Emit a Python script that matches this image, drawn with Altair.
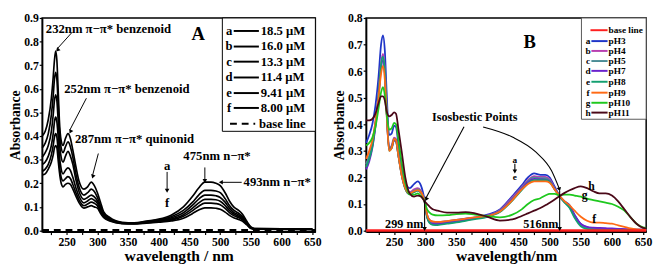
import altair as alt
import pandas as pd

FONT = "Liberation Serif"

# ---------------- Panel A : concentration series ----------------
WL_A = [210, 215, 220, 225, 228, 230, 232, 234, 236, 238, 241, 244, 248, 252, 256, 260, 265, 270, 278, 284,
        290, 295, 300, 305, 310, 320, 340, 360, 380, 400, 420, 440, 455, 465, 475, 485, 493, 500, 508, 515,
        522, 530, 536, 543, 550, 556, 600, 650]
A_a = [0.40, 0.42, 0.47, 0.56, 0.65, 0.72, 0.76, 0.72, 0.60, 0.47, 0.38, 0.36, 0.39, 0.41, 0.39, 0.34, 0.27, 0.21, 0.175, 0.185,
       0.205, 0.19, 0.16, 0.12, 0.08, 0.055, 0.035, 0.032, 0.04, 0.048, 0.065, 0.10, 0.145, 0.18, 0.205, 0.205, 0.2, 0.19, 0.16, 0.125,
       0.1, 0.085, 0.07, 0.04, 0.015, 0.008, 0.007, 0.006]
A_b = [0.35, 0.37, 0.41, 0.49, 0.57, 0.64, 0.67, 0.64, 0.54, 0.43, 0.35, 0.33, 0.355, 0.375, 0.355, 0.31, 0.24, 0.185, 0.15, 0.16,
       0.175, 0.165, 0.14, 0.105, 0.075, 0.05, 0.033, 0.031, 0.038, 0.045, 0.058, 0.085, 0.12, 0.15, 0.17, 0.17, 0.167, 0.16, 0.135, 0.106,
       0.086, 0.073, 0.06, 0.035, 0.013, 0.008, 0.007, 0.006]
A_c = [0.31, 0.33, 0.36, 0.42, 0.49, 0.55, 0.575, 0.55, 0.47, 0.38, 0.31, 0.29, 0.315, 0.335, 0.315, 0.28, 0.215, 0.165, 0.132, 0.14,
       0.15, 0.142, 0.125, 0.095, 0.07, 0.048, 0.032, 0.03, 0.036, 0.042, 0.053, 0.075, 0.107, 0.133, 0.15, 0.15, 0.147, 0.14, 0.12, 0.095,
       0.077, 0.066, 0.054, 0.032, 0.012, 0.007, 0.006, 0.006]
A_d = [0.28, 0.29, 0.315, 0.36, 0.41, 0.46, 0.48, 0.46, 0.40, 0.32, 0.26, 0.24, 0.255, 0.265, 0.255, 0.225, 0.18, 0.145, 0.117, 0.125,
       0.135, 0.128, 0.115, 0.088, 0.065, 0.045, 0.031, 0.03, 0.034, 0.04, 0.048, 0.067, 0.095, 0.117, 0.132, 0.132, 0.13, 0.124, 0.106, 0.085,
       0.07, 0.06, 0.05, 0.03, 0.011, 0.007, 0.006, 0.005]
A_e = [0.25, 0.26, 0.28, 0.32, 0.36, 0.395, 0.41, 0.395, 0.34, 0.28, 0.225, 0.21, 0.22, 0.228, 0.22, 0.195, 0.16, 0.13, 0.105, 0.112,
       0.12, 0.115, 0.105, 0.08, 0.06, 0.043, 0.03, 0.029, 0.033, 0.037, 0.044, 0.06, 0.084, 0.103, 0.116, 0.116, 0.114, 0.109, 0.094, 0.076,
       0.063, 0.055, 0.046, 0.028, 0.01, 0.006, 0.006, 0.005]
A_f = [0.235, 0.24, 0.26, 0.29, 0.32, 0.35, 0.36, 0.35, 0.30, 0.25, 0.2, 0.185, 0.195, 0.2, 0.195, 0.175, 0.145, 0.118, 0.095, 0.1,
       0.105, 0.1, 0.095, 0.073, 0.055, 0.04, 0.029, 0.028, 0.031, 0.035, 0.04, 0.052, 0.072, 0.087, 0.096, 0.096, 0.094, 0.09, 0.078, 0.064,
       0.054, 0.047, 0.04, 0.025, 0.009, 0.006, 0.005, 0.005]
A_SERIES = {"a": A_a, "b": A_b, "c": A_c, "d": A_d, "e": A_e, "f": A_f}
A_BASE_WL = [210, 655]
A_BASE_ABS = [0.002, 0.002]
A_LEG_LETTERS = ["a", "b", "c", "d", "e", "f"]
A_LEG_LABELS = ["18.5 μM", "16.0 μM", "13.3 μM", "11.4 μM", "9.41 μM", "8.00 μM"]

# ---------------- Panel B : pH series ----------------
WL_B = [205, 210, 215, 220, 225, 229, 232, 235, 238, 242, 246, 250, 253, 257, 262, 268, 275, 282, 288, 293,
        299, 303, 307, 312, 320, 335, 350, 365, 380, 400, 420, 440, 455, 465, 475, 485, 493, 500, 508, 516,
        524, 532, 540, 550, 560, 570, 580, 590, 600, 610, 620, 630, 640, 650, 655]
B_pH3 = [0.33, 0.36, 0.40, 0.47, 0.58, 0.70, 0.735, 0.68, 0.52, 0.36, 0.365, 0.395, 0.39, 0.32, 0.24, 0.18, 0.16, 0.175, 0.185, 0.17,
         0.115, 0.06, 0.04, 0.033, 0.032, 0.035, 0.04, 0.045, 0.05, 0.06, 0.08, 0.13, 0.17, 0.20, 0.215, 0.21, 0.21, 0.20, 0.165, 0.13,
         0.11, 0.095, 0.06, 0.025, 0.012, 0.008, 0.006, 0.005, 0.005, 0.005, 0.004, 0.004, 0.004, 0.004, 0.004]
B_pH4 = [0.25, 0.28, 0.33, 0.41, 0.52, 0.63, 0.665, 0.61, 0.46, 0.31, 0.32, 0.35, 0.345, 0.29, 0.22, 0.165, 0.145, 0.155, 0.16, 0.15,
         0.11, 0.055, 0.035, 0.028, 0.027, 0.032, 0.037, 0.042, 0.048, 0.057, 0.077, 0.125, 0.163, 0.19, 0.205, 0.202, 0.202, 0.193, 0.16, 0.13,
         0.108, 0.09, 0.055, 0.022, 0.01, 0.006, 0.005, 0.005, 0.004, 0.004, 0.004, 0.003, 0.003, 0.003, 0.003]
B_pH5 = [0.25, 0.28, 0.32, 0.40, 0.51, 0.62, 0.65, 0.60, 0.45, 0.31, 0.315, 0.34, 0.335, 0.28, 0.215, 0.16, 0.14, 0.15, 0.155, 0.147,
         0.108, 0.052, 0.032, 0.026, 0.025, 0.03, 0.035, 0.04, 0.046, 0.055, 0.075, 0.12, 0.16, 0.186, 0.20, 0.197, 0.197, 0.188, 0.157, 0.128,
         0.106, 0.088, 0.052, 0.02, 0.009, 0.006, 0.005, 0.004, 0.004, 0.004, 0.003, 0.003, 0.003, 0.003, 0.003]
B_pH7 = [0.23, 0.26, 0.31, 0.39, 0.50, 0.61, 0.64, 0.59, 0.44, 0.305, 0.31, 0.34, 0.335, 0.28, 0.21, 0.158, 0.138, 0.146, 0.15, 0.143,
         0.107, 0.05, 0.03, 0.025, 0.024, 0.029, 0.034, 0.04, 0.046, 0.054, 0.073, 0.117, 0.157, 0.182, 0.195, 0.193, 0.192, 0.185, 0.156, 0.128,
         0.108, 0.09, 0.055, 0.025, 0.014, 0.011, 0.01, 0.009, 0.008, 0.007, 0.006, 0.005, 0.004, 0.004, 0.004]
B_pH8 = [0.24, 0.27, 0.315, 0.40, 0.51, 0.625, 0.655, 0.60, 0.45, 0.30, 0.31, 0.345, 0.34, 0.28, 0.21, 0.157, 0.137, 0.145, 0.15, 0.143,
         0.107, 0.05, 0.028, 0.022, 0.021, 0.026, 0.031, 0.037, 0.043, 0.052, 0.07, 0.113, 0.152, 0.177, 0.19, 0.19, 0.19, 0.183, 0.155, 0.128,
         0.105, 0.085, 0.048, 0.016, 0.006, 0.003, 0.002, 0.002, 0.002, 0.002, 0.002, 0.002, 0.002, 0.002, 0.002]
B_pH9 = [0.27, 0.30, 0.34, 0.41, 0.50, 0.59, 0.62, 0.57, 0.44, 0.30, 0.31, 0.345, 0.34, 0.28, 0.21, 0.16, 0.14, 0.148, 0.152, 0.145,
         0.108, 0.06, 0.04, 0.035, 0.033, 0.036, 0.04, 0.045, 0.05, 0.055, 0.072, 0.115, 0.155, 0.175, 0.185, 0.185, 0.185, 0.18, 0.155, 0.13,
         0.11, 0.095, 0.075, 0.052, 0.037, 0.03, 0.03, 0.028, 0.026, 0.02, 0.014, 0.008, 0.005, 0.004, 0.004]
B_pH10 = [0.32, 0.33, 0.35, 0.39, 0.46, 0.52, 0.54, 0.51, 0.44, 0.38, 0.385, 0.405, 0.40, 0.34, 0.26, 0.18, 0.135, 0.135, 0.14, 0.13,
          0.11, 0.08, 0.068, 0.06, 0.057, 0.058, 0.062, 0.064, 0.06, 0.055, 0.05, 0.06, 0.08, 0.10, 0.115, 0.122, 0.132, 0.138, 0.138, 0.133,
          0.135, 0.135, 0.132, 0.128, 0.12, 0.115, 0.11, 0.105, 0.10, 0.09, 0.075, 0.05, 0.025, 0.012, 0.01]
B_pH11 = [0.415, 0.415, 0.42, 0.44, 0.48, 0.505, 0.505, 0.49, 0.45, 0.43, 0.435, 0.445, 0.44, 0.38, 0.30, 0.20, 0.14, 0.128, 0.132, 0.128,
          0.11, 0.10, 0.09, 0.08, 0.075, 0.068, 0.068, 0.07, 0.065, 0.052, 0.038, 0.042, 0.055, 0.065, 0.075, 0.085, 0.095, 0.105, 0.117, 0.13,
          0.142, 0.152, 0.16, 0.166, 0.16, 0.148, 0.14, 0.14, 0.132, 0.11, 0.08, 0.05, 0.025, 0.01, 0.008]
B_NAMES = ["pH3", "pH4", "pH5", "pH7", "pH8", "pH9", "pH10", "pH11"]
B_LETTERS = ["a", "b", "c", "d", "e", "f", "g", "h"]
B_VALUES = [B_pH3, B_pH4, B_pH5, B_pH7, B_pH8, B_pH9, B_pH10, B_pH11]
B_COLORS = ["#1f35c8", "#b83fb0", "#4b8c96", "#6a22cc", "#13a070", "#ff6a14", "#1ec81e", "#4a0818"]
BASE_COLOR = "#ff1f1f"
B_BASE_WL = [205, 655]
B_BASE_ABS = [0.0005, 0.0005]

for v in A_SERIES.values():
    assert len(v) == len(WL_A)
for v in B_VALUES:
    assert len(v) == len(WL_B)

# ---------------- layout ----------------
WA, WB, H, SP = 280, 287, 219, 10
xsA = alt.Scale(domain=[210, 655], nice=False, zero=False)
ysA = alt.Scale(domain=[-0.005, 0.9], nice=False, zero=False)
xsB = alt.Scale(domain=[205, 655], nice=False, zero=False)
ysB = alt.Scale(domain=[-0.004, 0.8], nice=False, zero=False)

XTICKS = [225, 250, 275, 300, 325, 350, 375, 400, 425, 450, 475, 500, 525, 550, 575, 600, 625, 650]
LBL_EXPR = "datum.value % 50 === 0 ? format(datum.value, 'd') : ''"


def xaxis(title):
    return alt.Axis(title=title, values=XTICKS, labelExpr=LBL_EXPR, labelOverlap=False, labelFlush=False,
                    tickSize=3, labelPadding=2, titlePadding=1, titleFontSize=16, labelFontSize=12)


def yaxis(vals):
    return alt.Axis(title="Absorbance", values=vals, format=".1f", labelOverlap=False, labelFlush=False,
                    tickSize=3, labelPadding=1, titlePadding=1, titleFontSize=14, labelFontSize=12)


AXA = (xaxis("wavelength / nm"), yaxis([0, 0.1, 0.2, 0.3, 0.4, 0.5, 0.6, 0.7, 0.8, 0.9]))
AXB = (xaxis("wavelength/nm"), yaxis([0, 0.1, 0.2, 0.3, 0.4, 0.5, 0.6, 0.7, 0.8]))


def enc_xy(xs, ys, ax, xf="x:Q", yf="y:Q"):
    return dict(x=alt.X(xf, scale=xs, axis=ax[0]), y=alt.Y(yf, scale=ys, axis=ax[1]))


def texts(df, xs, ys, ax, align="left", size=13, color="black"):
    return alt.Chart(df).mark_text(align=align, baseline="middle", font=FONT, fontWeight="bold",
                                   fontSize=size, color=color).encode(text="t:N", **enc_xy(xs, ys, ax))


def rules(df, xs, ys, ax, color="black", width=1.0, dash=None):
    kw = dict(color=color, strokeWidth=width)
    if dash:
        kw["strokeDash"] = dash
    return alt.Chart(df).mark_rule(**kw).encode(x2="x2:Q", y2="y2:Q", **enc_xy(xs, ys, ax))


def heads(df, xs, ys, ax, size=30):
    return alt.Chart(df).mark_point(shape="triangle-up", filled=True, size=size, color="black", opacity=1).encode(
        angle=alt.Angle("ang:Q", scale=None), **enc_xy(xs, ys, ax))


# ---------------- Panel A layers ----------------
rowsA = []
for k, vals in A_SERIES.items():
    for w, v in zip(WL_A, vals):
        rowsA.append({"x": w, "y": v, "s": k})
dfA = pd.DataFrame(rowsA)

linesA = alt.Chart(dfA).mark_line(color="black", strokeWidth=1.7, interpolate="monotone").encode(
    detail="s:N", **enc_xy(xsA, ysA, AXA))

baseA = alt.Chart(pd.DataFrame({"x": A_BASE_WL, "y": A_BASE_ABS})).mark_line(
    color="black", strokeWidth=2, strokeDash=[7, 5]).encode(**enc_xy(xsA, ysA, AXA))

# legend A (decoration)
legA_rows = [0.845, 0.779, 0.715, 0.648, 0.582, 0.519, 0.452]
legA_box = alt.Chart(pd.DataFrame({"x": [503.5], "x2": [655], "y": [0.42], "y2": [0.9]})).mark_rect(
    fill="white", stroke="black", strokeWidth=1).encode(x2="x2:Q", y2="y2:Q", **enc_xy(xsA, ysA, AXA))
legA_lines = rules(pd.DataFrame({"x": [522] * 6, "x2": [563] * 6, "y": legA_rows[:6], "y2": legA_rows[:6]}),
                   xsA, ysA, AXA, width=2)
legA_dash = rules(pd.DataFrame({"x": [516], "x2": [557], "y": [legA_rows[6]], "y2": [legA_rows[6]]}),
                  xsA, ysA, AXA, width=2, dash=[7, 5])
legA_let = texts(pd.DataFrame({"x": [514.5] * 6, "y": legA_rows[:6], "t": A_LEG_LETTERS}), xsA, ysA, AXA, "center", 13)
legA_lab = texts(pd.DataFrame({"x": [566] * 6 + [563], "y": legA_rows, "t": A_LEG_LABELS + ["base line"]}),
                 xsA, ysA, AXA, "left", 13)

annA = texts(pd.DataFrame({
    "x": [216, 246, 263.5, 440, 538],
    "y": [0.853, 0.597, 0.385, 0.314, 0.204],
    "t": ["232nm π−π* benzenoid", "252nm π−π* benzenoid", "287nm π−π* quinonid", "475nm n−π*", "493nm n−π*"]}),
    xsA, ysA, AXA, "left", 13)
annA_af = texts(pd.DataFrame({"x": [413.5, 413.5], "y": [0.271, 0.118], "t": ["a", "f"]}), xsA, ysA, AXA, "center", 13)
annA_lbl = texts(pd.DataFrame({"x": [464], "y": [0.833], "t": ["A"]}), xsA, ysA, AXA, "center", 19)
arrA = rules(pd.DataFrame({
    "x": [259, 282, 301.5, 413.5, 475, 535],
    "x2": [234, 255, 292, 413.5, 475, 502],
    "y": [0.84, 0.56, 0.326, 0.248, 0.267, 0.204],
    "y2": [0.768, 0.425, 0.232, 0.172, 0.214, 0.204]}), xsA, ysA, AXA, width=1)
headA = heads(pd.DataFrame({
    "x": [235, 256, 292.5, 413.5, 475, 501],
    "y": [0.764, 0.418, 0.228, 0.168, 0.210, 0.204],
    "ang": [222, 207, 196, 180, 180, 270]}), xsA, ysA, AXA, size=22)

chartA = alt.layer(linesA, legA_box, baseA, legA_lines, legA_dash, legA_let, legA_lab,
                   annA, annA_af, annA_lbl, arrA, headA).properties(width=WA, height=H)

# ---------------- Panel B layers ----------------
rowsB = []
for i, (n, vals) in enumerate(zip(B_NAMES, B_VALUES)):
    for w, v in zip(WL_B, vals):
        rowsB.append({"x": w, "y": v, "ph": n, "o": i})
dfB = pd.DataFrame(rowsB)
colB = alt.Scale(domain=B_NAMES, range=B_COLORS)

baseB = alt.Chart(pd.DataFrame({"x": B_BASE_WL, "y": B_BASE_ABS})).mark_line(
    color=BASE_COLOR, strokeWidth=2.5).encode(**enc_xy(xsB, ysB, AXB))

linesB = alt.Chart(dfB).mark_line(strokeWidth=1.8, interpolate="monotone").encode(
    color=alt.Color("ph:N", scale=colB, legend=None), order="o:Q", **enc_xy(xsB, ysB, AXB))

legB_rows = [0.754, 0.713, 0.676, 0.638, 0.601, 0.56, 0.519, 0.481, 0.444]
legB_box = alt.Chart(pd.DataFrame({"x": [551], "x2": [655], "y": [0.419], "y2": [0.8]})).mark_rect(
    fill="white", stroke="#555555", strokeWidth=1).encode(x2="x2:Q", y2="y2:Q", **enc_xy(xsB, ysB, AXB))
legB_lines = alt.Chart(pd.DataFrame({"x": [567] * 8, "x2": [593] * 8, "y": legB_rows[1:], "y2": legB_rows[1:],
                                     "ph": B_NAMES})).mark_rule(strokeWidth=2).encode(
    x2="x2:Q", y2="y2:Q", color=alt.Color("ph:N", scale=colB, legend=None), **enc_xy(xsB, ysB, AXB))
legB_base = rules(pd.DataFrame({"x": [565.5], "x2": [593], "y": [legB_rows[0]], "y2": [legB_rows[0]]}),
                  xsB, ysB, AXB, color=BASE_COLOR, width=2)
legB_let = texts(pd.DataFrame({"x": [561.5] * 8, "y": legB_rows[1:], "t": B_LETTERS}), xsB, ysB, AXB, "center", 9.5)
legB_lab = texts(pd.DataFrame({"x": [594.5] * 9, "y": legB_rows, "t": ["base line"] + B_NAMES}),
                 xsB, ysB, AXB, "left", 9.5)

annB = texts(pd.DataFrame({"x": [379.6], "y": [0.426], "t": ["Isosbestic Points"]}), xsB, ysB, AXB, "center", 12.5)
annB_r = texts(pd.DataFrame({"x": [297, 514], "y": [0.024, 0.024], "t": ["299 nm", "516nm"]}), xsB, ysB, AXB, "right", 12.5)
annB_ae = texts(pd.DataFrame({"x": [444, 444], "y": [0.264, 0.203], "t": ["a", "e"]}), xsB, ysB, AXB, "center", 9.5)
annB_hgf = texts(pd.DataFrame({"x": [567, 556, 571.6], "y": [0.168, 0.133, 0.042], "t": ["h", "g", "f"]}),
                 xsB, ysB, AXB, "center", 12)
annB_lbl = texts(pd.DataFrame({"x": [467.7], "y": [0.709], "t": ["B"]}), xsB, ysB, AXB, "center", 19)
arrB = rules(pd.DataFrame({
    "x": [362.3, 299, 516, 444],
    "x2": [301, 299, 516, 444],
    "y": [0.391, 0.112, 0.15, 0.252],
    "y2": [0.122, 0.008, 0.008, 0.225]}), xsB, ysB, AXB, width=1.1)
curveB = alt.Chart(pd.DataFrame({"x": [393, 440, 478, 503, 515], "y": [0.39, 0.352, 0.295, 0.225, 0.16]})).mark_line(
    color="black", strokeWidth=1.1, interpolate="monotone").encode(**enc_xy(xsB, ysB, AXB))
headB = heads(pd.DataFrame({
    "x": [301.5, 299, 516, 444, 515.5],
    "y": [0.118, 0.006, 0.006, 0.222, 0.155],
    "ang": [207, 180, 180, 180, 165]}), xsB, ysB, AXB, size=22)

chartB = alt.layer(linesB, legB_box, baseB, legB_lines, legB_base, legB_let, legB_lab,
                   annB, annB_r, annB_ae, annB_hgf, annB_lbl, arrB, curveB, headB).properties(width=WB, height=H)

chart = alt.hconcat(chartA, chartB, spacing=SP).resolve_scale(
    x="independent", y="independent", color="independent"
).properties(
    padding={"left": 0, "top": 0, "right": 0, "bottom": 0}
).configure_view(
    stroke="black", strokeWidth=1.5
).configure_axis(
    labelFont=FONT, titleFont=FONT, labelFontWeight="bold", titleFontWeight="bold",
    labelColor="black", titleColor="black", domainColor="black", domainWidth=1.5,
    tickColor="black", tickWidth=1.2, grid=False
)

chart.save("out.html", embed_options={"renderer": "svg", "actions": False})
